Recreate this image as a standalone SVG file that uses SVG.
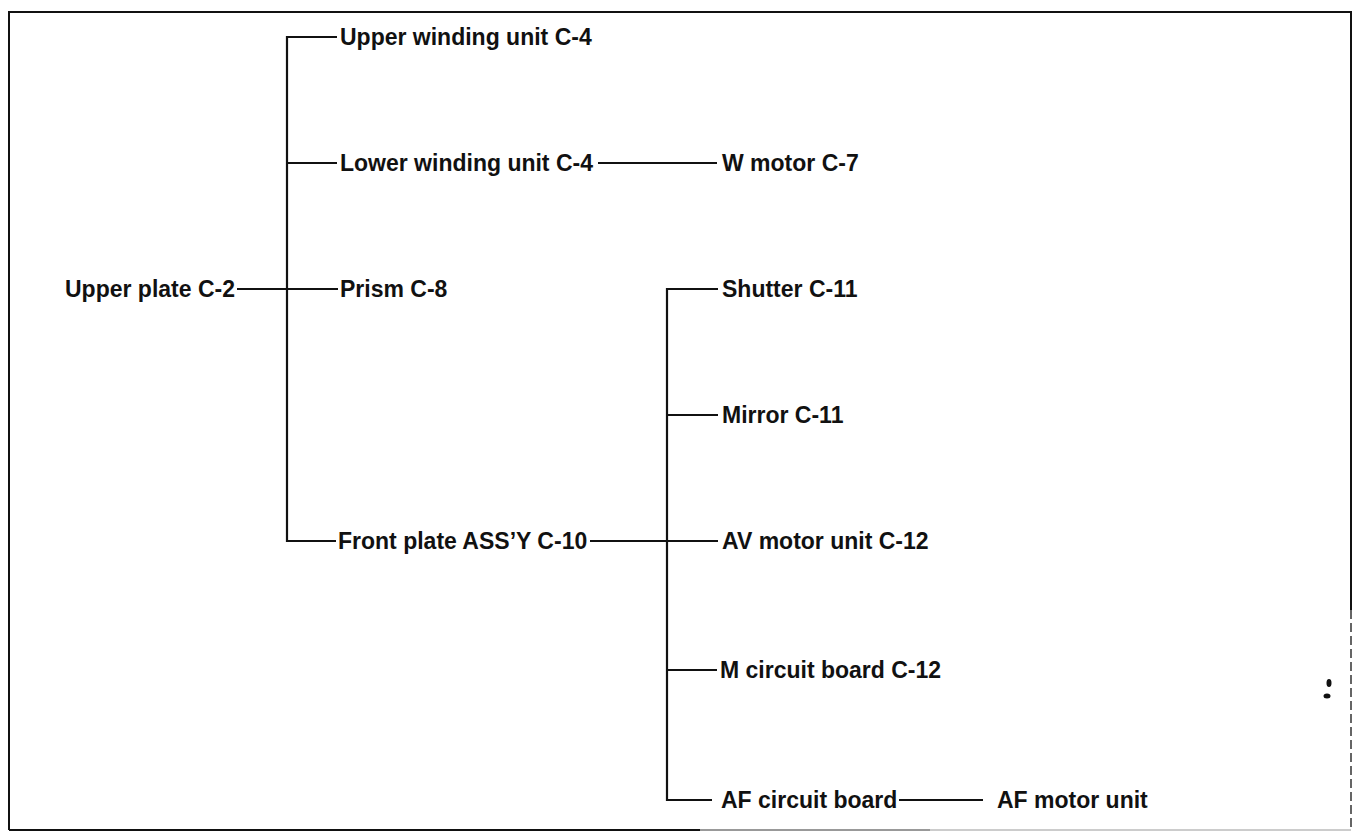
<svg xmlns="http://www.w3.org/2000/svg" width="1358" height="832" viewBox="0 0 1358 832">
<style>
.t{font-family:"Liberation Sans",Arial,sans-serif;font-size:23px;font-weight:bold;fill:#111}
.c{stroke:#111;stroke-width:2.2;fill:none}
.f{stroke:#111;stroke-width:2;fill:none}
</style>
<rect width="1358" height="832" fill="#fff"/>
<g id="frame">
<path class="f" d="M9 830 V12 H1351 V610"/>
<path d="M1351 610 V830" stroke="#333" stroke-width="1.5" stroke-dasharray="9 4" fill="none"/>
<path class="f" d="M9 830 H700"/>
<path d="M700 830 H930" stroke="#999" stroke-width="2"/>
<path d="M930 830 H1351" stroke="#ccc" stroke-width="2"/>
</g>
<g id="connectors">
<path class="c" d="M237 289 H338"/>
<path class="c" d="M337 37 H287 V541 H336"/>
<path class="c" d="M287 163 H337"/>
<path class="c" d="M598 163 H717"/>
<path class="c" d="M590 541 H718"/>
<path class="c" d="M718 289 H667 V800 H712"/>
<path class="c" d="M667 415 H718"/>
<path class="c" d="M667 670 H717"/>
<path class="c" d="M899 800 H983"/>
</g>
<g id="n-upper-plate"><text class="t" x="65" y="297">Upper plate C-2</text></g>
<g id="n-upper-winding"><text class="t" x="340" y="45">Upper winding unit C-4</text></g>
<g id="n-lower-winding"><text class="t" x="340" y="171">Lower winding unit C-4</text></g>
<g id="n-w-motor"><text class="t" x="722" y="171">W motor C-7</text></g>
<g id="n-prism"><text class="t" x="340" y="297">Prism C-8</text></g>
<g id="n-front-plate"><text class="t" x="338" y="549">Front plate ASS’Y C-10</text></g>
<g id="n-shutter"><text class="t" x="722" y="297">Shutter C-11</text></g>
<g id="n-mirror"><text class="t" x="722" y="423">Mirror C-11</text></g>
<g id="n-av-motor"><text class="t" x="722" y="549">AV motor unit C-12</text></g>
<g id="n-m-circuit"><text class="t" x="720" y="678">M circuit board C-12</text></g>
<g id="n-af-circuit"><text class="t" x="721" y="808">AF circuit board</text></g>
<g id="n-af-motor"><text class="t" x="997" y="808">AF motor unit</text></g>
<g id="specks" fill="#111">
<ellipse cx="1329" cy="683" rx="2.5" ry="4"/>
<ellipse cx="1327" cy="696" rx="3.5" ry="2.5"/>
</g>
</svg>
